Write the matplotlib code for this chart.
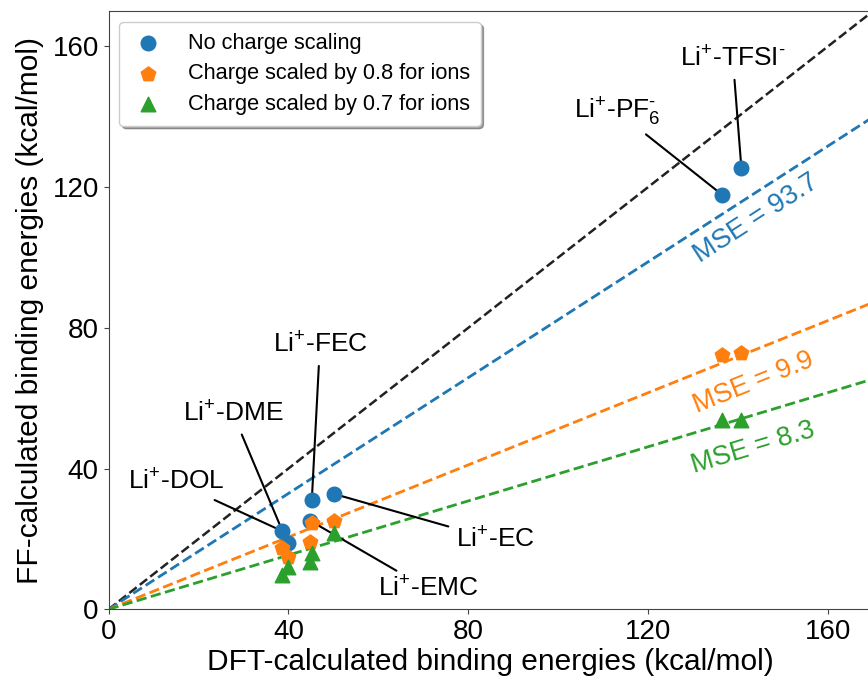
import numpy as np
import matplotlib.pyplot as plt

plt.rcParams['font.family'] = ['Liberation Sans', 'DejaVu Sans']
plt.rcParams['mathtext.fontset'] = 'custom'
plt.rcParams['mathtext.rm'] = 'Liberation Sans'
plt.rcParams['mathtext.it'] = 'Liberation Sans:italic'
plt.rcParams['mathtext.bf'] = 'Liberation Sans:bold'

# Sistemas (Li+ com solvente / anion)
systems = ['DOL', 'DME', 'EMC', 'FEC', 'EC', 'PF6', 'TFSI']
dft = np.array([38.5, 39.8, 44.8, 45.2, 50.1, 136.4, 140.7])
ff_no_scaling = np.array([22.3, 18.8, 25.2, 31.1, 32.8, 117.8, 125.3])
ff_scaled_08 = np.array([17.3, 14.9, 19.2, 24.4, 25.1, 72.2, 72.7])
ff_scaled_07 = np.array([9.7, 12.1, 13.5, 15.9, 21.6, 53.8, 53.8])

series_labels = ['No charge scaling', 'Charge scaled by 0.8 for ions',
                 'Charge scaled by 0.7 for ions']
fit_slopes = [0.823, 0.513, 0.385]
mse_values = [93.7, 9.9, 8.3]

annot_labels = [r'Li$^{+}$-DOL', r'Li$^{+}$-DME', r'Li$^{+}$-EMC', r'Li$^{+}$-FEC',
                r'Li$^{+}$-EC', r'Li$^{+}$-PF$_{6}^{\text{-}}$', r'Li$^{+}$-TFSI$^{\text{-}}$']
annot_xytext = [(15.0, 36.1), (27.7, 55.5), (71.0, 5.8), (47.0, 75.1),
                (86.1, 19.7), (113.2, 141.3), (138.8, 156.4)]

colors = ['#1f77b4', '#ff7f0e', '#2ca02c']
markers = ['o', 'p', '^']

fig = plt.figure(figsize=(8.68, 6.78), dpi=100)
ax = fig.add_axes([0.125, 0.1013, 0.881, 0.8825])

xs = np.array([0, 200])
ax.plot(xs, xs, '--', color='#222222', lw=1.8, zorder=1)
for slope, c in zip(fit_slopes, colors):
    ax.plot(xs, slope * xs, '--', color=c, lw=2.0, zorder=1)

for ff, c, m, lab in zip([ff_no_scaling, ff_scaled_08, ff_scaled_07], colors, markers, series_labels):
    ax.scatter(dft, ff, s=110 if m != 'p' else 120, color=c, marker=m, label=lab, zorder=3)

for lab, x, y, xyt in zip(annot_labels, dft, ff_no_scaling, annot_xytext):
    ax.annotate(lab, xy=(x, y), xytext=xyt, ha='center', va='center', fontsize=19,
                arrowprops=dict(arrowstyle='-', color='k', lw=1.5, shrinkA=4, shrinkB=0),
                zorder=2)

# Rotulos de MSE
mse_pos = [(144.0, 111.0), (143.4, 64.4), (143.4, 46.0)]
for slope, mse, c, pos in zip(fit_slopes, mse_values, colors, mse_pos):
    ax.text(pos[0], pos[1], 'MSE = %.1f' % mse, color=c, fontsize=19.5,
            rotation=np.degrees(np.arctan(slope * 3.52 / 4.5)),
            rotation_mode='anchor', ha='center', va='center')

ax.set_xlim(0, 170)
ax.set_ylim(0, 170)
ax.set_xticks([0, 40, 80, 120, 160])
ax.set_yticks([0, 40, 80, 120, 160])
ax.tick_params(labelsize=20, color='#444444')
for sp in ax.spines.values():
    sp.set_color('#444444')
ax.spines['right'].set_visible(False)

ax.set_xlabel('DFT-calculated binding energies (kcal/mol)', fontsize=21.5, labelpad=2)
ax.set_ylabel('FF-calculated binding energies (kcal/mol)', fontsize=21.5, labelpad=6)

ax.legend(loc='upper left', fontsize=15.7, shadow=True, handlelength=1.6,
          handletextpad=1.05, borderaxespad=0.5, borderpad=0.49, labelspacing=0.45)

fig.savefig('out.png', dpi=100)
